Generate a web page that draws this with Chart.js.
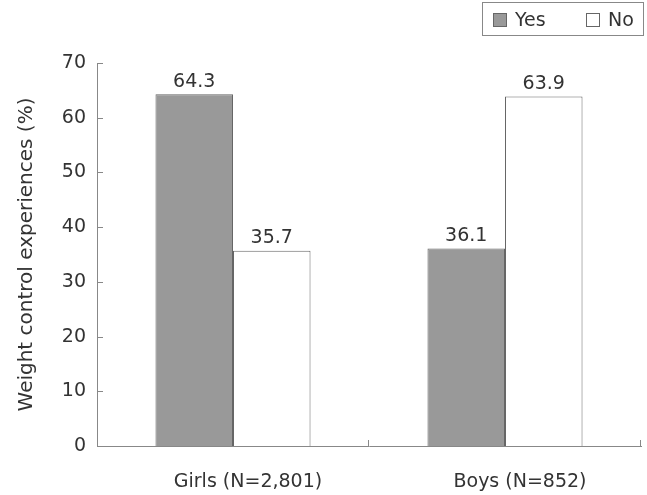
<!DOCTYPE html>
<html>
<head>
<meta charset="utf-8">
<script src="https://cdn.jsdelivr.net/npm/chart.js@4"></script>
<style>
  body { margin: 0; background: #fff; }
  #wrap { width: 647px; height: 495px; }
</style>
</head>
<body>
<div id="wrap"><canvas id="weightChart"></canvas></div>
<script>
const groups = ["Girls (N=2,801)", "Boys (N=852)"];
const yesValues = [64.3, 36.1];
const noValues = [35.7, 63.9];
const yTicks = [0, 10, 20, 30, 40, 50, 60, 70];

const FONT = "'DejaVu Sans', sans-serif";
const TEXT = "#333";
const AXIS = "#888";

// numbers on top of the bars
const valueLabels = {
  id: "valueLabels",
  afterDatasetsDraw(chart) {
    const ctx = chart.ctx;
    ctx.save();
    ctx.font = "19px " + FONT;
    ctx.fillStyle = TEXT;
    ctx.textAlign = "center";
    ctx.textBaseline = "bottom";
    chart.data.datasets.forEach((ds, i) => {
      chart.getDatasetMeta(i).data.forEach((bar, j) => {
        ctx.fillText(ds.data[j].toFixed(1), bar.x, bar.y - 3);
      });
    });
    ctx.restore();
  }
};

// ticks pointing into the plot
const innerTicks = {
  id: "innerTicks",
  afterDraw(chart) {
    const ctx = chart.ctx;
    const x = chart.scales.x, y = chart.scales.y;
    const area = chart.chartArea;
    ctx.save();
    ctx.strokeStyle = AXIS;
    ctx.lineWidth = 1;
    ctx.beginPath();
    yTicks.forEach(v => {
      const py = Math.round(y.getPixelForValue(v)) + 0.5;
      ctx.moveTo(area.left, py);
      ctx.lineTo(area.left + 6, py);
    });
    const half = (area.right - area.left) / groups.length / 2;
    groups.forEach((g, i) => {
      const px = Math.round(x.getPixelForValue(i) + half) - 0.5;
      ctx.moveTo(px, area.bottom);
      ctx.lineTo(px, area.bottom - 6);
    });
    ctx.stroke();
    ctx.restore();
  }
};

// boxed legend top right
const boxLegend = {
  id: "boxLegend",
  afterDraw(chart) {
    const ctx = chart.ctx;
    ctx.save();
    ctx.strokeStyle = "#888";
    ctx.lineWidth = 1;
    ctx.strokeRect(482.5, 2.5, 161, 33);
    ctx.font = "19px " + FONT;
    ctx.textBaseline = "middle";
    const spots = [493, 586];
    chart.data.datasets.forEach((ds, i) => {
      const bx = spots[i];
      ctx.fillStyle = ds.backgroundColor;
      ctx.fillRect(bx, 13, 14, 14);
      ctx.strokeStyle = "#666";
      ctx.strokeRect(bx + 0.5, 13.5, 13, 13);
      ctx.fillStyle = TEXT;
      ctx.fillText(ds.label, bx + 22, 21);
    });
    ctx.restore();
  }
};

new Chart(document.getElementById("weightChart"), {
  type: "bar",
  data: {
    labels: groups,
    datasets: [
      { label: "Yes", data: yesValues, backgroundColor: "#999999", borderColor: "#666", borderWidth: 1 },
      { label: "No", data: noValues, backgroundColor: "#ffffff", borderColor: "#666", borderWidth: 1 }
    ]
  },
  options: {
    responsive: true,
    maintainAspectRatio: false,
    animation: false,
    datasets: { bar: { categoryPercentage: 0.57, barPercentage: 1 } },
    layout: { padding: { top: 63, right: 6, left: 0, bottom: 0 } },
    plugins: { legend: { display: false }, tooltip: { enabled: false } },
    scales: {
      x: {
        grid: { display: false, drawTicks: false },
        border: { color: AXIS },
        ticks: { padding: 25, labelOffset: 15, color: TEXT, font: { family: FONT, size: 19 } },
        afterFit(scale) { scale.height = 49; }
      },
      y: {
        min: 0,
        max: 70,
        ticks: { stepSize: 10, padding: 11, color: TEXT, font: { family: FONT, size: 19 } },
        grid: { display: false, drawTicks: false },
        border: { color: AXIS },
        title: {
          display: true,
          text: "Weight control experiences (%)",
          color: TEXT,
          font: { family: FONT, size: 20 },
          padding: { top: 15, bottom: 0 }
        },
        afterFit(scale) { scale.width = 97; }
      }
    }
  },
  plugins: [valueLabels, innerTicks, boxLegend]
});
</script>
</body>
</html>
